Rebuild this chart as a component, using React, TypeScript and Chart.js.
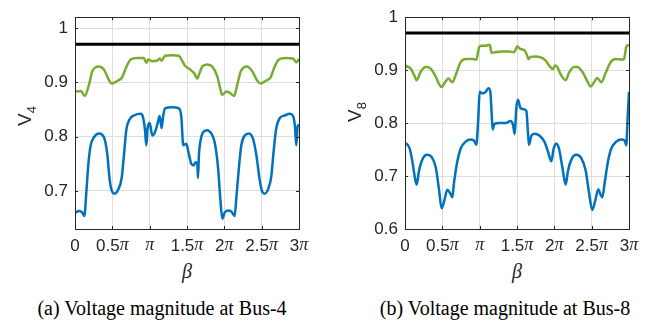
import { useEffect, useRef } from "react";
import { Chart, registerables } from "chart.js";
Chart.register(...registerables);

// beta in multiples of pi
const xTicks = [0, 0.5, 1, 1.5, 2, 2.5, 3];
const xTickLabels = ["0", "0.5π", "π", "1.5π", "2π", "2.5π", "3π"];
const threshold = 0.97;

// ---- Bus-4 ----
const bus4Ticks = [0.7, 0.8, 0.9, 1];
const bus4GreenX = [0, 0.08, 0.13, 0.19, 0.23, 0.32, 0.39, 0.46, 0.49, 0.57, 0.63, 0.68, 0.745, 0.835, 0.92, 0.955, 0.98, 1.035, 1.1, 1.135, 1.16, 1.205, 1.3, 1.39, 1.435, 1.47, 1.53, 1.595, 1.64, 1.66, 1.705, 1.77, 1.84, 1.905, 1.95, 1.97, 2.03, 2.07, 2.13, 2.175, 2.22, 2.3, 2.375, 2.44, 2.49, 2.555, 2.62, 2.665, 2.73, 2.82, 2.92, 2.965, 3];
const bus4GreenY = [0.883, 0.884, 0.875, 0.897, 0.92, 0.929, 0.923, 0.903, 0.898, 0.903, 0.909, 0.926, 0.942, 0.945, 0.945, 0.936, 0.942, 0.939, 0.94, 0.944, 0.94, 0.949, 0.95, 0.949, 0.94, 0.931, 0.925, 0.917, 0.907, 0.914, 0.929, 0.933, 0.929, 0.911, 0.886, 0.877, 0.883, 0.881, 0.875, 0.897, 0.92, 0.929, 0.92, 0.903, 0.898, 0.903, 0.909, 0.926, 0.942, 0.945, 0.944, 0.937, 0.943];
const bus4BlueX = [0, 0.054, 0.098, 0.125, 0.152, 0.179, 0.21, 0.254, 0.321, 0.388, 0.433, 0.464, 0.5, 0.531, 0.58, 0.625, 0.656, 0.688, 0.732, 0.79, 0.879, 0.91, 0.937, 0.955, 0.973, 1.0, 1.036, 1.071, 1.107, 1.134, 1.16, 1.179, 1.205, 1.304, 1.393, 1.424, 1.45, 1.49, 1.526, 1.558, 1.589, 1.615, 1.638, 1.647, 1.66, 1.678, 1.714, 1.767, 1.826, 1.87, 1.915, 1.946, 1.973, 2.004, 2.049, 2.094, 2.138, 2.16, 2.196, 2.227, 2.272, 2.33, 2.384, 2.428, 2.473, 2.509, 2.54, 2.585, 2.629, 2.66, 2.696, 2.741, 2.808, 2.875, 2.92, 2.946, 2.964, 2.982, 3];
const bus4BlueY = [0.66, 0.663, 0.66, 0.654, 0.698, 0.75, 0.784, 0.799, 0.806, 0.799, 0.767, 0.721, 0.698, 0.695, 0.703, 0.724, 0.767, 0.813, 0.832, 0.839, 0.842, 0.836, 0.813, 0.784, 0.816, 0.825, 0.802, 0.808, 0.825, 0.838, 0.816, 0.836, 0.852, 0.854, 0.852, 0.836, 0.784, 0.787, 0.767, 0.75, 0.747, 0.753, 0.75, 0.724, 0.767, 0.79, 0.808, 0.812, 0.806, 0.79, 0.744, 0.686, 0.649, 0.66, 0.664, 0.662, 0.654, 0.686, 0.744, 0.784, 0.802, 0.806, 0.796, 0.767, 0.721, 0.698, 0.695, 0.703, 0.727, 0.773, 0.816, 0.834, 0.839, 0.842, 0.838, 0.819, 0.784, 0.819, 0.822];

// ---- Bus-8 ----
const bus8Ticks = [0.6, 0.7, 0.8, 0.9, 1];
const bus8GreenX = [0, 0.018, 0.076, 0.121, 0.156, 0.21, 0.277, 0.344, 0.411, 0.455, 0.49, 0.536, 0.58, 0.634, 0.679, 0.746, 0.813, 0.902, 0.955, 0.99, 1.013, 1.08, 1.134, 1.16, 1.214, 1.304, 1.393, 1.46, 1.482, 1.504, 1.536, 1.607, 1.638, 1.652, 1.683, 1.75, 1.817, 1.884, 1.929, 1.982, 2.009, 2.04, 2.085, 2.152, 2.196, 2.263, 2.308, 2.375, 2.442, 2.487, 2.531, 2.576, 2.629, 2.688, 2.754, 2.821, 2.911, 2.933, 2.964, 3];
const bus8GreenY = [0.91, 0.908, 0.903, 0.891, 0.881, 0.897, 0.906, 0.903, 0.888, 0.874, 0.868, 0.877, 0.884, 0.877, 0.891, 0.915, 0.921, 0.921, 0.92, 0.942, 0.946, 0.946, 0.948, 0.933, 0.934, 0.935, 0.935, 0.934, 0.939, 0.945, 0.941, 0.936, 0.927, 0.921, 0.925, 0.926, 0.924, 0.918, 0.909, 0.902, 0.909, 0.906, 0.892, 0.881, 0.895, 0.906, 0.906, 0.897, 0.879, 0.869, 0.877, 0.885, 0.877, 0.895, 0.915, 0.921, 0.92, 0.921, 0.944, 0.948];
const bus8BlueX = [0, 0.018, 0.063, 0.098, 0.134, 0.156, 0.188, 0.232, 0.299, 0.357, 0.411, 0.455, 0.49, 0.522, 0.567, 0.603, 0.634, 0.656, 0.701, 0.746, 0.813, 0.879, 0.924, 0.955, 0.982, 1.0, 1.036, 1.08, 1.116, 1.143, 1.161, 1.174, 1.196, 1.259, 1.348, 1.415, 1.446, 1.469, 1.491, 1.513, 1.544, 1.589, 1.625, 1.647, 1.66, 1.692, 1.736, 1.803, 1.87, 1.915, 1.96, 1.991, 2.026, 2.062, 2.107, 2.152, 2.183, 2.228, 2.294, 2.361, 2.419, 2.464, 2.508, 2.553, 2.589, 2.616, 2.642, 2.674, 2.719, 2.763, 2.83, 2.897, 2.942, 2.964, 2.982, 3];
const bus8BlueY = [0.762, 0.761, 0.752, 0.728, 0.696, 0.684, 0.71, 0.731, 0.74, 0.736, 0.717, 0.675, 0.639, 0.651, 0.674, 0.668, 0.66, 0.687, 0.728, 0.752, 0.765, 0.769, 0.767, 0.759, 0.811, 0.859, 0.856, 0.859, 0.866, 0.859, 0.817, 0.788, 0.798, 0.8, 0.8, 0.804, 0.797, 0.779, 0.829, 0.844, 0.829, 0.826, 0.823, 0.782, 0.759, 0.776, 0.78, 0.776, 0.764, 0.746, 0.728, 0.752, 0.761, 0.752, 0.717, 0.684, 0.71, 0.731, 0.74, 0.734, 0.711, 0.669, 0.636, 0.657, 0.675, 0.666, 0.66, 0.687, 0.728, 0.752, 0.765, 0.769, 0.767, 0.758, 0.811, 0.859];

const BLUE = "#0072BD";
const GREEN = "#77AC30";
const AXIS = "#262626";
const GRID = "#dedede";
const SANS = "'Liberation Sans', Arial, sans-serif";
const SERIF = "'Liberation Serif', 'Times New Roman', serif";

function pts(xs: number[], ys: number[]) {
  return xs.map((x, i) => ({ x, y: ys[i] }));
}

const framePlugin = {
  id: "frame",
  afterDraw(chart: any) {
    const { ctx, chartArea: a, scales } = chart;
    const xs = scales.x, ys = scales.y;
    ctx.save();
    ctx.strokeStyle = AXIS;
    ctx.lineWidth = 1;
    ctx.strokeRect(Math.round(a.left) + 0.5, Math.round(a.top) + 0.5, Math.round(a.right - a.left), Math.round(a.bottom - a.top));
    const tl = 3;
    ctx.beginPath();
    xTicks.forEach((t) => {
      const px = Math.round(xs.getPixelForValue(t)) + 0.5;
      ctx.moveTo(px, a.bottom); ctx.lineTo(px, a.bottom - tl);
      ctx.moveTo(px, a.top); ctx.lineTo(px, a.top + tl);
    });
    (ys.ticks as any[]).forEach((t) => {
      const py = Math.round(ys.getPixelForValue(t.value)) + 0.5;
      ctx.moveTo(a.left, py); ctx.lineTo(a.left + tl, py);
      ctx.moveTo(a.right, py); ctx.lineTo(a.right - tl, py);
    });
    ctx.stroke();
    // x tick labels with italic pi
    ctx.fillStyle = AXIS;
    ctx.textBaseline = "middle";
    ctx.textAlign = "left";
    const numFont = `17px ${SANS}`;
    const piFont = `italic 18px ${SERIF}`;
    xTicks.forEach((t, i) => {
      const lab = xTickLabels[i];
      const hasPi = lab.endsWith("π");
      const num = hasPi ? lab.slice(0, -1) : lab;
      ctx.font = numFont;
      const wn = ctx.measureText(num).width;
      ctx.font = piFont;
      const wp = hasPi ? ctx.measureText("π").width : 0;
      const total = wn + wp;
      const cx = xs.getPixelForValue(t);
      const x0 = cx - total / 2;
      const y = a.bottom + 17;
      ctx.font = numFont;
      ctx.fillText(num, x0, y);
      if (hasPi) {
        ctx.font = piFont;
        ctx.fillText("π", x0 + wn, y - 1);
      }
    });
    ctx.restore();
  },
};

type PanelProps = {
  yMin: number; yMax: number; yTicks: number[];
  greenX: number[]; greenY: number[]; blueX: number[]; blueY: number[];
  width: number; height: number; padRight: number;
};

function Panel(p: PanelProps) {
  const ref = useRef<HTMLCanvasElement>(null);
  useEffect(() => {
    const chart = new Chart(ref.current!, {
      type: "line",
      data: {
        datasets: [
          { data: [{ x: 0, y: threshold }, { x: 3, y: threshold }], borderColor: "#000", borderWidth: 3, pointRadius: 0 },
          { data: pts(p.greenX, p.greenY), borderColor: GREEN, borderWidth: 2.5, pointRadius: 0, cubicInterpolationMode: "monotone" },
          { data: pts(p.blueX, p.blueY), borderColor: BLUE, borderWidth: 2.5, pointRadius: 0, cubicInterpolationMode: "monotone" },
        ],
      } as any,
      options: {
        animation: false,
        responsive: false,
        devicePixelRatio: 1,
        layout: { padding: { left: 0, top: 4, right: p.padRight, bottom: 0 } },
        plugins: { legend: { display: false }, tooltip: { enabled: false } },
        events: [],
        scales: {
          x: {
            type: "linear", min: 0, max: 3,
            afterBuildTicks: (s: any) => { s.ticks = xTicks.map((v) => ({ value: v })); },
            afterFit: (s: any) => { s.height = 31; },
            ticks: { display: false },
            grid: { color: GRID, drawTicks: false },
            border: { display: false },
          },
          y: {
            type: "linear", min: p.yMin, max: p.yMax,
            afterBuildTicks: (s: any) => { s.ticks = p.yTicks.map((v) => ({ value: v })); },
            afterFit: (s: any) => { s.width = 75; },
            ticks: {
              padding: 7, color: AXIS, font: { family: SANS, size: 17 },
              callback: (v: any) => (v === 1 ? "1" : Number(v).toFixed(1)),
            },
            grid: { color: GRID, drawTicks: false },
            border: { display: false },
          },
        },
      } as any,
      plugins: [framePlugin],
    });
    return () => chart.destroy();
  }, []);
  return <canvas ref={ref} width={p.width} height={p.height} style={{ width: p.width, height: p.height, display: "block" }} />;
}

const abs = (l: number, t: number): React.CSSProperties => ({ position: "absolute", left: l, top: t });

function YLabel({ x, y, sub }: { x: number; y: number; sub: string }) {
  return (
    <div style={{ ...abs(x, y), transform: "translate(-50%,-50%) rotate(-90deg)", fontFamily: SANS, fontSize: 19, color: AXIS, whiteSpace: "nowrap", lineHeight: 1 }}>
      V<span style={{ fontSize: 13, position: "relative", top: 5 }}>{sub}</span>
    </div>
  );
}

function Centered({ x, y, children, style }: any) {
  return (
    <div style={{ ...abs(x, y), transform: "translate(-50%,-50%)", whiteSpace: "nowrap", lineHeight: 1, ...style }}>{children}</div>
  );
}

export default function App() {
  return (
    <div style={{ position: "absolute", left: 0, top: 0, width: 658, height: 326, background: "#fff", overflow: "hidden" }}>
      <div style={abs(0, 0)}>
        <Panel yMin={0.63} yMax={1.02} yTicks={bus4Ticks} greenX={bus4GreenX} greenY={bus4GreenY} blueX={bus4BlueX} blueY={bus4BlueY} width={320} height={260} padRight={21} />
      </div>
      <div style={abs(330, 0)}>
        <Panel yMin={0.6} yMax={1.0} yTicks={bus8Ticks} greenX={bus8GreenX} greenY={bus8GreenY} blueX={bus8BlueX} blueY={bus8BlueY} width={328} height={260} padRight={29} />
      </div>
      <YLabel x={24} y={116} sub="4" />
      <YLabel x={354} y={112} sub="8" />
      <Centered x={187} y={271} style={{ fontFamily: SERIF, fontStyle: "italic", fontSize: 20, color: AXIS }}>β</Centered>
      <Centered x={517} y={271} style={{ fontFamily: SERIF, fontStyle: "italic", fontSize: 20, color: AXIS }}>β</Centered>
      <Centered x={162} y={308} style={{ fontFamily: SERIF, fontSize: 20, color: "#000" }}>(a) Voltage magnitude at Bus-4</Centered>
      <Centered x={505} y={308} style={{ fontFamily: SERIF, fontSize: 20, color: "#000" }}>(b) Voltage magnitude at Bus-8</Centered>
    </div>
  );
}
